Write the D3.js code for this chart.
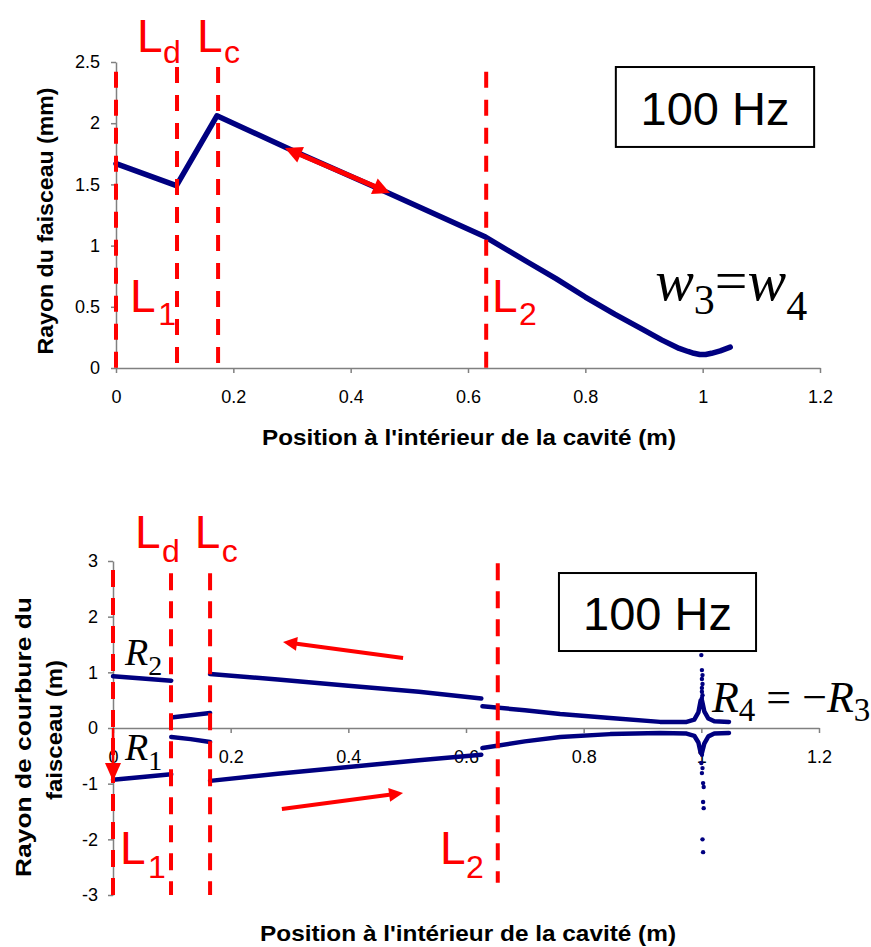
<!DOCTYPE html>
<html><head><meta charset="utf-8">
<script src="https://cdn.jsdelivr.net/npm/d3@7/dist/d3.min.js"></script>
<style>body{margin:0;background:#fff}</style>
</head><body>
<svg id="c" width="871" height="947"></svg>
<script>
// ---------- TOP CHART DATA: beam radius (mm) vs position (m) ----------
const topX = [0, 0.103, 0.172, 0.30, 0.45, 0.63, 0.70, 0.75, 0.80, 0.85, 0.90, 0.93, 0.96, 0.975, 0.985, 0.995, 1.005, 1.015, 1.03, 1.047];
const topW = [1.67, 1.49, 2.06, 1.78, 1.46, 1.07, 0.87, 0.73, 0.58, 0.44, 0.31, 0.23, 0.16, 0.135, 0.12, 0.11, 0.11, 0.12, 0.14, 0.17];
const topXTicks = [0, 0.2, 0.4, 0.6, 0.8, 1, 1.2];
const topXLabels = ["0", "0.2", "0.4", "0.6", "0.8", "1", "1.2"];
const topYTicks = [0, 0.5, 1, 1.5, 2, 2.5];
const topYLabels = ["0", "0.5", "1", "1.5", "2", "2.5"];
// element positions (m) and dashed-line top (mm)
const topElemNames = ["1", "d", "c", "2"];
const topElemX = [0, 0.104, 0.174, 0.631];
const topElemTop = [2.42, 2.46, 2.46, 2.42];

// ---------- BOTTOM CHART DATA: radius of curvature (m) ----------
const botYTicks = [-3, -2, -1, 0, 1, 2, 3];
const botYLabels = ["-3", "-2", "-1", "0", "1", "2", "3"];
const botXTicks = [0, 0.2, 0.4, 0.6, 0.8, 1, 1.2];
const botXLabels = ["0", "0.2", "0.4", "0.6", "0.8", "1", "1.2"];
// R2 (upper branch), one array per continuous segment
const r2X = [
  [0, 0.05, 0.099],
  [0.099, 0.132, 0.165],
  [0.165, 0.28, 0.40, 0.52, 0.626],
  [0.628, 0.70, 0.76, 0.845, 0.93, 0.975, 0.988, 0.995, 0.999, 1.001, 1.005, 1.012, 1.022, 1.047]
];
const r2Y = [
  [0.93, 0.89, 0.85],
  [0.19, 0.23, 0.27],
  [0.97, 0.87, 0.76, 0.65, 0.53],
  [0.39, 0.32, 0.25, 0.18, 0.11, 0.11, 0.15, 0.28, 0.5, 0.5, 0.3, 0.17, 0.12, 0.11]
];
// R1 (lower branch)
const r1X = [
  [0, 0.05, 0.099],
  [0.099, 0.132, 0.165],
  [0.165, 0.28, 0.40, 0.52, 0.626],
  [0.628, 0.70, 0.76, 0.845, 0.93, 0.975, 0.988, 0.995, 0.999, 1.001, 1.005, 1.012, 1.022, 1.047]
];
const r1Y = [
  [-0.93, -0.88, -0.83],
  [-0.16, -0.2, -0.25],
  [-0.95, -0.82, -0.70, -0.58, -0.48],
  [-0.36, -0.24, -0.16, -0.11, -0.09, -0.1, -0.14, -0.26, -0.45, -0.45, -0.28, -0.15, -0.1, -0.09]
];
// isolated points of the divergence near the waist
const spikeUpX = [1.0, 1.001, 1.002, 1.001, 1.002, 1.001, 1.001, 1.002, 1.001];
const spikeUpY = [1.31, 1.04, 0.95, 0.88, 0.79, 0.72, 0.65, 0.59, 0.54];
const spikeDnX = [1.001, 1.0, 1.002, 1.001, 1.003, 1.004, 1.003, 1.004, 1.002, 1.003];
const spikeDnY = [-0.48, -0.63, -0.72, -0.81, -0.99, -1.06, -1.33, -1.44, -2.0, -2.23];
const botElemNames = ["1", "d", "c", "2"];
const botElemX = [0, 0.0986, 0.165, 0.654];
const botElemTop = [2.84, 2.78, 2.78, 2.96];
const botElemBot = [-3, -3, -3, -2.78];

// ---------- drawing ----------
const SANS = "'Liberation Sans', Arial, sans-serif";
const SERIF = "'Liberation Serif', 'Times New Roman', serif";
const RED = "#ff0000", NAVY = "#000080", AX = "#808080";
const svg = d3.select("#c");

function styleAxis(g) {
  g.select(".domain").attr("stroke", AX).attr("stroke-width", 1.5);
  g.selectAll(".tick line").attr("stroke", AX).attr("stroke-width", 1.5);
  g.selectAll(".tick text").attr("font-family", SANS).attr("font-size", 18).attr("fill", "#000");
}
function title(transform, txt, len) {
  svg.append("text").attr("transform", transform).attr("text-anchor", "middle").attr("font-family", SANS)
    .attr("font-weight", "bold").attr("font-size", 22).attr("textLength", len).attr("lengthAdjust", "spacingAndGlyphs").text(txt);
}
function arrowHead(g, x1, y1, x2, y2, len, wid) {
  const a = Math.atan2(y2 - y1, x2 - x1);
  const bx = x2 - len * Math.cos(a), by = y2 - len * Math.sin(a);
  const px = -Math.sin(a) * wid / 2, py = Math.cos(a) * wid / 2;
  g.append("polygon").attr("points", `${x2},${y2} ${bx + px},${by + py} ${bx - px},${by - py}`).attr("fill", RED);
  return [bx + 2 * Math.cos(a), by + 2 * Math.sin(a)];
}
function lLabel(x, y, sub, sx, sy) {
  svg.append("text").attr("x", x).attr("y", y).attr("font-family", SANS).attr("font-size", 46).attr("fill", RED).text("L");
  svg.append("text").attr("x", sx).attr("y", sy).attr("font-family", SANS).attr("font-size", 32).attr("fill", RED).text(sub);
}

// ===== TOP =====
const xT = d3.scaleLinear().domain([0, 1.2]).range([116, 820]);
const yT = d3.scaleLinear().domain([0, 2.5]).range([368, 62]);
svg.append("g").attr("transform", `translate(0,${yT(0)})`)
  .call(d3.axisBottom(xT).tickValues(topXTicks).tickFormat((d, i) => topXLabels[i]).tickSize(5).tickSizeOuter(0).tickPadding(17))
  .call(styleAxis);
svg.append("g").attr("transform", `translate(${xT(0)},0)`)
  .call(d3.axisLeft(yT).tickValues(topYTicks).tickFormat((d, i) => topYLabels[i]).tickSize(5).tickSizeOuter(0).tickPadding(11))
  .call(styleAxis);
title("translate(469,445)", "Position à l'intérieur de la cavité (m)", 414);
title("translate(53,221) rotate(-90)", "Rayon du faisceau (mm)", 267);

svg.append("path").datum(topX.map((x, i) => [x, topW[i]]))
  .attr("d", d3.line().x(d => xT(d[0])).y(d => yT(d[1])))
  .attr("fill", "none").attr("stroke", NAVY).attr("stroke-width", 5.5).attr("stroke-linejoin", "round").attr("stroke-linecap", "round");

topElemX.forEach((x, i) => {
  svg.append("line").attr("x1", xT(x)).attr("x2", xT(x)).attr("y1", yT(topElemTop[i])).attr("y2", yT(0))
    .attr("stroke", RED).attr("stroke-width", 4).attr("stroke-dasharray", "16,12");
});
lLabel(xT(0.036), yT(2.58), "d", xT(0.080), yT(2.49));
lLabel(xT(0.138), yT(2.58), "c", xT(0.184), yT(2.49));
lLabel(xT(0.024), yT(0.457), "1", xT(0.072), yT(0.351));
lLabel(xT(0.641), yT(0.457), "2", xT(0.687), yT(0.351));

// double arrow on the curve
{
  const g = svg.append("g");
  const ax1 = xT(0.288), ay1 = yT(1.797), ax2 = xT(0.467), ay2 = yT(1.43);
  const e1 = arrowHead(g, ax2, ay2, ax1, ay1, 17, 17);
  const e2 = arrowHead(g, ax1, ay1, ax2, ay2, 17, 17);
  g.insert("line", "polygon").attr("x1", e1[0]).attr("y1", e1[1]).attr("x2", e2[0]).attr("y2", e2[1]).attr("stroke", RED).attr("stroke-width", 5);
}
// 100 Hz box
svg.append("rect").attr("x", xT(0.852)).attr("y", yT(2.459)).attr("width", xT(1.19) - xT(0.852)).attr("height", yT(1.806) - yT(2.459))
  .attr("fill", "#fff").attr("stroke", "#000").attr("stroke-width", 2);
svg.append("text").attr("x", (xT(0.852) + xT(1.19)) / 2).attr("y", yT(1.985)).attr("text-anchor", "middle")
  .attr("font-family", SANS).attr("font-size", 47).text("100 Hz");
// w3 = w4
{
  const t = svg.append("text").attr("x", xT(0.919)).attr("y", yT(0.556)).attr("font-family", SERIF).attr("font-size", 58);
  t.append("tspan").attr("font-style", "italic").text("w");
  t.append("tspan").attr("font-size", 42).attr("dy", 14).text("3");
  t.append("tspan").attr("dy", -14).text("=");
  t.append("tspan").attr("font-style", "italic").text("w");
  t.append("tspan").attr("font-size", 42).attr("dy", 20).text("4");
}

// ===== BOTTOM =====
const xB = d3.scaleLinear().domain([0, 1.2]).range([113, 819]);
const yB = d3.scaleLinear().domain([-3, 3]).range([895, 561]);
svg.append("g").attr("transform", `translate(0,${yB(0)})`)
  .call(d3.axisBottom(xB).tickValues(botXTicks).tickFormat((d, i) => botXLabels[i]).tickSize(5).tickSizeOuter(0).tickPadding(17))
  .call(styleAxis);
svg.append("g").attr("transform", `translate(${xB(0)},0)`)
  .call(d3.axisLeft(yB).tickValues(botYTicks).tickFormat((d, i) => botYLabels[i]).tickSize(5).tickSizeOuter(0).tickPadding(10))
  .call(styleAxis);
title("translate(468,941)", "Position à l'intérieur de la cavité (m)", 416);
title("translate(31,737) rotate(-90)", "Rayon de courbure du", 280);
title("translate(62,730) rotate(-90)", "faisceau (m)", 140);

const lineB = d3.line().x(d => xB(d[0])).y(d => yB(d[1]));
[[r2X, r2Y], [r1X, r1Y]].forEach(([xs, ys]) => {
  xs.forEach((seg, s) => {
    svg.append("path").datum(seg.map((x, i) => [x, ys[s][i]])).attr("d", lineB)
      .attr("fill", "none").attr("stroke", NAVY).attr("stroke-width", 4.5).attr("stroke-linejoin", "round").attr("stroke-linecap", "round");
  });
});
spikeUpX.forEach((x, i) => svg.append("circle").attr("cx", xB(x)).attr("cy", yB(spikeUpY[i])).attr("r", 2.2).attr("fill", NAVY));
spikeDnX.forEach((x, i) => svg.append("circle").attr("cx", xB(x)).attr("cy", yB(spikeDnY[i])).attr("r", 2.2).attr("fill", NAVY));

botElemX.forEach((x, i) => {
  svg.append("line").attr("x1", xB(x)).attr("x2", xB(x)).attr("y1", yB(botElemTop[i])).attr("y2", yB(botElemBot[i]))
    .attr("stroke", RED).attr("stroke-width", 4).attr("stroke-dasharray", "17,11");
});
lLabel(xB(0.0374), yB(3.233), "d", xB(0.0833), yB(2.982));
lLabel(xB(0.139), yB(3.233), "c", xB(0.185), yB(2.982));
lLabel(xB(0.0119), yB(-2.443), "1", xB(0.0595), yB(-2.694));
lLabel(xB(0.556), yB(-2.443), "2", xB(0.6), yB(-2.694));

// arrows
{
  const g = svg.append("g");
  let e = arrowHead(g, xB(0.493), yB(1.257), xB(0.289), yB(1.545), 14, 14);
  g.insert("line", "polygon").attr("x1", xB(0.493)).attr("y1", yB(1.257)).attr("x2", e[0]).attr("y2", e[1]).attr("stroke", RED).attr("stroke-width", 4);
  const g2 = svg.append("g");
  e = arrowHead(g2, xB(0.287), yB(-1.455), xB(0.493), yB(-1.168), 14, 14);
  g2.insert("line", "polygon").attr("x1", xB(0.287)).attr("y1", yB(-1.455)).attr("x2", e[0]).attr("y2", e[1]).attr("stroke", RED).attr("stroke-width", 4);
  const g3 = svg.append("g");
  e = arrowHead(g3, xB(0), yB(0), xB(0), yB(-0.952), 18, 16);
  g3.insert("line", "polygon").attr("x1", xB(0)).attr("y1", yB(0)).attr("x2", e[0]).attr("y2", e[1]).attr("stroke", RED).attr("stroke-width", 2.5);
}
svg.append("rect").attr("x", xB(0.758)).attr("y", yB(2.784)).attr("width", xB(1.093) - xB(0.758)).attr("height", yB(1.383) - yB(2.784))
  .attr("fill", "#fff").attr("stroke", "#000").attr("stroke-width", 2);
svg.append("text").attr("x", (xB(0.758) + xB(1.093)) / 2).attr("y", yB(1.76)).attr("text-anchor", "middle")
  .attr("font-family", SANS).attr("font-size", 47).text("100 Hz");
// R labels
function rLabel(x, y, sub, size, subSize, dy) {
  const t = svg.append("text").attr("x", x).attr("y", y).attr("font-family", SERIF).attr("font-size", size);
  t.append("tspan").attr("font-style", "italic").text("R");
  t.append("tspan").attr("font-size", subSize).attr("dy", dy).text(sub);
  return t;
}
rLabel(xB(0.0204), yB(1.132), "2", 38, 28, 10);
rLabel(xB(0.0204), yB(-0.575), "1", 38, 28, 10);
{
  const t = rLabel(xB(1.018), yB(0.287), "4", 44, 33, 9);
  t.append("tspan").attr("dy", -9).text(" = \u2212");
  t.append("tspan").attr("font-style", "italic").text("R");
  t.append("tspan").attr("font-size", 33).attr("dy", 9).text("3");
}
</script>
</body></html>
